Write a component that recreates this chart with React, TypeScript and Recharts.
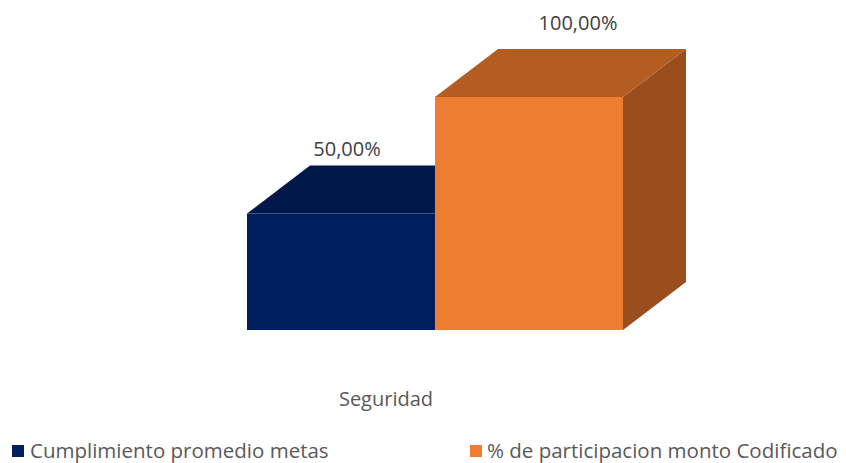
import { BarChart, Bar, XAxis, YAxis, Legend, LabelList } from 'recharts'

const categories = ['Seguridad']
const cumplimiento = [50]
const participacion = [100]

const seriesNames = ['Cumplimiento promedio metas', '% de participacion monto Codificado']

const data = categories.map((name, i) => ({
  name,
  cumplimiento: cumplimiento[i],
  participacion: participacion[i],
}))

const FONT = '"Open Sans", sans-serif'
const DX = 63
const DY = 48

const colors = {
  blue: { front: '#001F5F', top: '#00194A', side: '#001640' },
  orange: { front: '#ED7D31', top: '#B45D22', side: '#9A4E1D' },
}

function make3D(c: { front: string; top: string; side: string }) {
  return (props: any) => {
    const { x, y, width, height } = props
    const top = `${x},${y} ${x + DX},${y - DY} ${x + width + DX},${y - DY} ${x + width},${y}`
    const side = `${x + width},${y} ${x + width + DX},${y - DY} ${x + width + DX},${y + height - DY} ${x + width},${y + height}`
    return (
      <g>
        <polygon points={side} fill={c.side} />
        <polygon points={top} fill={c.top} />
        <rect x={x} y={y} width={width} height={height} fill={c.front} />
      </g>
    )
  }
}

function makeLabel(offX: number, offY: number) {
  return (props: any) => {
    const { x, y, value } = props
    return (
      <text x={x + offX} y={y + offY} textAnchor="middle" dominantBaseline="central"
        fontFamily={FONT} fontSize={20} fill="#404040">
        {`${Number(value).toFixed(2).replace('.', ',')}%`}
      </text>
    )
  }
}

const AxisTick = (props: any) => {
  const { x, y, payload } = props
  return (
    <text x={x - 49} y={y + 60} textAnchor="middle" dominantBaseline="central"
      fontFamily={FONT} fontSize={20} fill="#595959">
      {payload.value}
    </text>
  )
}

const LegendContent = () => (
  <div style={{ position: 'relative', width: 846, height: 30, fontFamily: FONT, fontSize: 20.5, color: '#595959' }}>
    <div style={{ position: 'absolute', left: 12, top: 12, width: 12, height: 12, background: colors.blue.front }} />
    <div style={{ position: 'absolute', left: 30, top: 5, lineHeight: '24px', whiteSpace: 'nowrap' }}>{seriesNames[0]}</div>
    <div style={{ position: 'absolute', left: 470, top: 12, width: 12, height: 12, background: colors.orange.front }} />
    <div style={{ position: 'absolute', left: 487, top: 5, lineHeight: '24px', whiteSpace: 'nowrap' }}>{seriesNames[1]}</div>
  </div>
)

export default function App() {
  return (
    <div style={{ position: 'absolute', left: 0, top: 0, background: '#fff' }}>
      <BarChart width={846} height={463} data={data}
        margin={{ top: 97, right: 223, left: 247, bottom: 0 }}
        barCategoryGap={0} barGap={0}>
        <XAxis dataKey="name" axisLine={false} tickLine={false} height={103} tick={<AxisTick />} />
        <YAxis hide domain={[0, 100]} />
        <Legend verticalAlign="bottom" height={30} content={<LegendContent />}
          wrapperStyle={{ left: 0, width: 846, bottom: 0 }} />
        <Bar dataKey="cumplimiento" name={seriesNames[0]} isAnimationActive={false} shape={make3D(colors.blue)}>
          <LabelList dataKey="cumplimiento" content={makeLabel(100, -65)} />
        </Bar>
        <Bar dataKey="participacion" name={seriesNames[1]} isAnimationActive={false} shape={make3D(colors.orange)}>
          <LabelList dataKey="participacion" content={makeLabel(143, -75)} />
        </Bar>
      </BarChart>
    </div>
  )
}
